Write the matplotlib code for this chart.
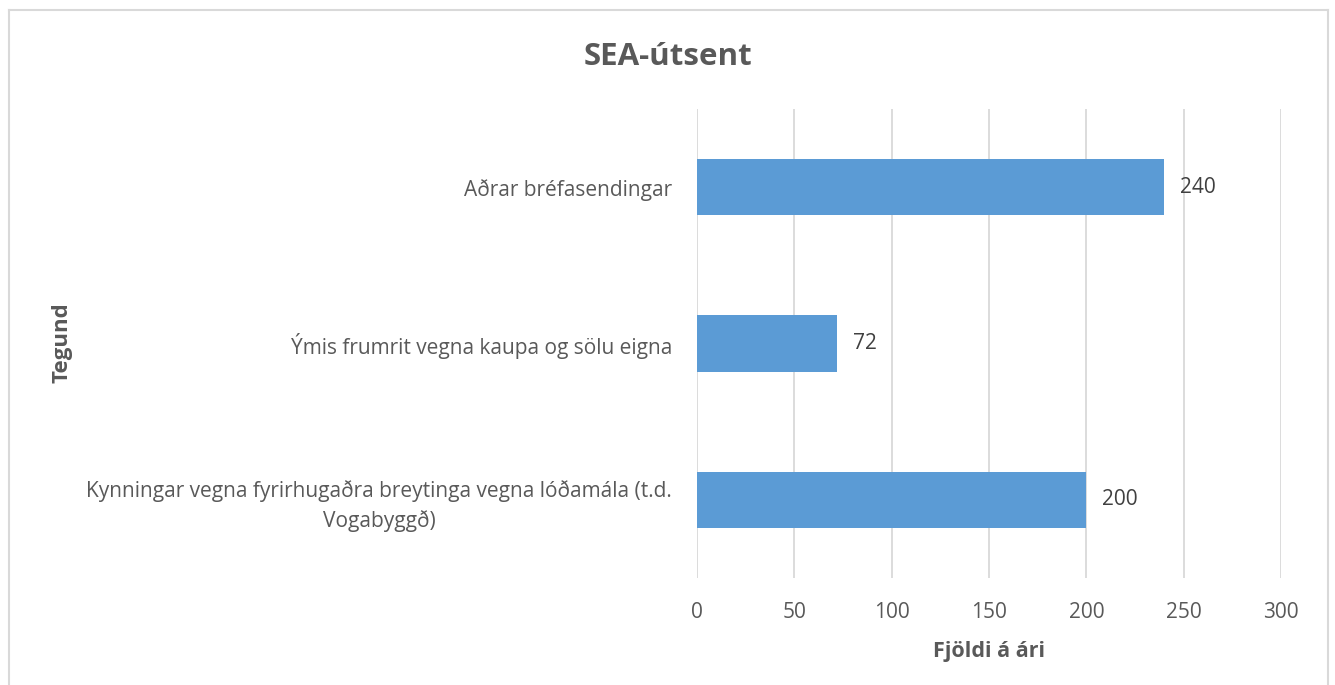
import matplotlib.pyplot as plt
from matplotlib.lines import Line2D

# data
categories = [
    "Kynningar vegna fyrirhugaðra breytinga vegna lóðamála (t.d.\nVogabyggð)",
    "Ýmis frumrit vegna kaupa og sölu eigna",
    "Aðrar bréfasendingar",
]
values = [200, 72, 240]
x_ticks = [0, 50, 100, 150, 200, 250, 300]

plt.rcParams["font.family"] = ["Open Sans", "DejaVu Sans"]
text_col = "#595959"

fig = plt.figure(figsize=(13.35, 6.85), dpi=100)
ax = fig.add_axes([697 / 1335, 1 - 578 / 685, (1281 - 697) / 1335, (578 - 109) / 685])

pos = list(range(len(categories)))
bars = ax.barh(pos, values, height=0.36, color="#5B9BD5", zorder=3)

for b, v in zip(bars, values):
    ax.annotate(str(v), (b.get_width(), b.get_y() + b.get_height() / 2),
                xytext=(16, 0), textcoords="offset pixels",
                ha="left", va="center", fontsize=15, color="#404040")

ax.set_xlim(0, 300)
ax.set_ylim(-0.5, 2.5)
ax.set_xticks(x_ticks)
ax.set_yticks(pos)
ax.set_yticklabels(categories, multialignment="center", linespacing=1.45)
ax.tick_params(axis="both", length=0, labelsize=15, colors=text_col)
ax.tick_params(axis="y", pad=18)
ax.tick_params(axis="x", pad=17)
ax.grid(axis="x", color="#D9D9D9", linewidth=1.3, zorder=0)
for s in ax.spines.values():
    s.set_visible(False)

ax.set_xlabel("Fjöldi á ári", fontsize=15.5, fontweight="bold", color=text_col, labelpad=13)
fig.text(62 / 1335, 1 - 343 / 685, "Tegund", rotation=90, ha="center", va="center",
         fontsize=16, fontweight="bold", color=text_col)
fig.text(668 / 1335, 1 - 57 / 685, "SEA-útsent", ha="center", va="center",
         fontsize=22.5, fontweight="bold", color=text_col)

# chart border (bottom edge is cropped in the original)
bc = "#D9D9D9"
l, r, t = 9 / 1335, 1328 / 1335, 1 - 10 / 685
fig.add_artist(Line2D([l, r], [t, t], color=bc, lw=1.5, transform=fig.transFigure))
fig.add_artist(Line2D([l, l], [0, t], color=bc, lw=1.5, transform=fig.transFigure))
fig.add_artist(Line2D([r, r], [0, t], color=bc, lw=1.5, transform=fig.transFigure))

fig.savefig("out.png", dpi=100)
